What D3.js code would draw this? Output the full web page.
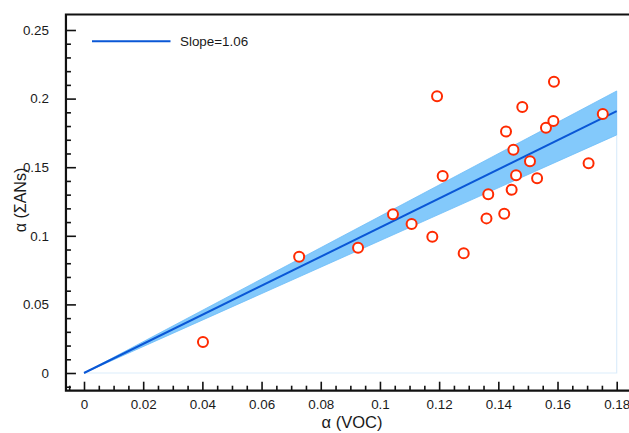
<!DOCTYPE html>
<html>
<head>
<meta charset="utf-8">
<script src="https://cdn.jsdelivr.net/npm/d3@7/dist/d3.min.js"></script>
<style>
  html, body { margin: 0; padding: 0; background: #fff; }
  svg { display: block; }
  text { font-family: "Liberation Sans", Arial, Helvetica, sans-serif; fill: #1a1a1a; }
</style>
</head>
<body>
<svg id="chart" width="629" height="433"></svg>
<script>
// Observations: alpha of VOC vs alpha of total alkyl nitrates
const voc = [0.0402, 0.0727, 0.0926, 0.1044, 0.1107, 0.1177, 0.1283, 0.1193, 0.1212,
             0.1360, 0.1366, 0.1420, 0.1426, 0.1445, 0.1451, 0.1460, 0.1481, 0.1507,
             0.1531, 0.1561, 0.1586, 0.1588, 0.1705, 0.1753];
const ans = [0.0226, 0.0847, 0.0913, 0.1157, 0.1086, 0.0993, 0.0872, 0.2017, 0.1436,
             0.1127, 0.1302, 0.1160, 0.1761, 0.1336, 0.1627, 0.1441, 0.1939, 0.1543,
             0.1419, 0.1788, 0.1837, 0.2122, 0.1529, 0.1888];

// Fitted slope through the origin and its uncertainty envelope
const slope = 1.06;
const slopeUpper = 1.142;
const slopeLower = 0.964;
const fitRange = [0, 0.18];

// Axis ticks
const xTicks = [0, 0.02, 0.04, 0.06, 0.08, 0.1, 0.12, 0.14, 0.16, 0.18];
const xTickLabels = ["0", "0.02", "0.04", "0.06", "0.08", "0.1", "0.12", "0.14", "0.16", "0.18"];
const xMinor = d3.range(-1, 37).map(i => i * 0.005).filter(v => Math.abs(v * 50 - Math.round(v * 50)) > 1e-6);
const yTicks = [0, 0.05, 0.1, 0.15, 0.2, 0.25];
const yTickLabels = ["0", "0.05", "0.1", "0.15", "0.2", "0.25"];
const yMinor = d3.range(-1, 26).map(i => i * 0.01).filter(v => Math.abs(v * 20 - Math.round(v * 20)) > 1e-6);

const svg = d3.select("#chart");

const x = d3.scaleLinear().domain([0, 0.18]).range([84, 616.7]);
const y = d3.scaleLinear().domain([0, 0.25]).range([373, 30]);

// Plot frame edges
const frameLeft = x(-0.0061), frameRight = 660, frameTop = y(0.2613), frameBottom = y(-0.0129);

// Faint outline of the fit region
svg.append("path")
  .attr("d", `M${x(0)},${y(0)}H${x(0.18)}V${y(slopeLower * 0.18)}`)
  .attr("fill", "none")
  .attr("stroke", "#dcedfb")
  .attr("stroke-width", 1.2);

// Confidence band
const band = [[fitRange[0], slopeUpper * fitRange[0]], [fitRange[1], slopeUpper * fitRange[1]],
              [fitRange[1], slopeLower * fitRange[1]], [fitRange[0], slopeLower * fitRange[0]]];
svg.append("path")
  .attr("d", d3.line().x(d => x(d[0])).y(d => y(d[1]))(band) + "Z")
  .attr("fill", "#83c9fb")
  .attr("stroke", "#6dbcf7")
  .attr("stroke-width", 0.8);

// Fitted line
svg.append("path")
  .attr("d", d3.line().x(d => x(d)).y(d => y(slope * d))(fitRange))
  .attr("fill", "none")
  .attr("stroke", "#0a57d6")
  .attr("stroke-width", 2);

// Data points
svg.append("g").selectAll("circle")
  .data(voc.map((v, i) => [v, ans[i]]))
  .join("circle")
  .attr("cx", d => x(d[0]))
  .attr("cy", d => y(d[1]))
  .attr("r", 5)
  .attr("fill", "#fff")
  .attr("stroke", "#ff2a00")
  .attr("stroke-width", 2);

// Bottom axis with inward ticks
const gx = svg.append("g").attr("transform", `translate(0,${frameBottom})`);
gx.call(d3.axisBottom(x).tickValues(xTicks).tickSize(-9).tickPadding(22)
  .tickFormat((d, i) => xTickLabels[i]));
gx.append("g").call(d3.axisBottom(x).tickValues(xMinor).tickSize(-5).tickFormat(""));
gx.selectAll(".domain").remove();
gx.selectAll("line").attr("stroke", "#111").attr("stroke-width", 1.6);
gx.selectAll(".tick text").attr("font-size", "13.4px").attr("fill", "#1a1a1a").attr("dy", "0").attr("y", 18);

// Left axis with inward ticks
const gy = svg.append("g").attr("transform", `translate(${frameLeft},0)`);
gy.call(d3.axisLeft(y).tickValues(yTicks).tickSize(-10).tickPadding(17)
  .tickFormat((d, i) => yTickLabels[i]));
gy.append("g").call(d3.axisLeft(y).tickValues(yMinor).tickSize(-5).tickFormat(""));
gy.selectAll(".domain").remove();
gy.selectAll("line").attr("stroke", "#111").attr("stroke-width", 1.6);
gy.selectAll(".tick text").attr("font-size", "13.4px").attr("fill", "#1a1a1a");

// Frame lines
svg.append("path")
  .attr("d", `M${frameRight},${frameTop}H${frameLeft}V${frameBottom}H${frameRight}`)
  .attr("fill", "none")
  .attr("stroke", "#111")
  .attr("stroke-width", 2.2);

// Axis titles
svg.append("text")
  .attr("x", 352).attr("y", 428)
  .attr("text-anchor", "middle")
  .attr("font-size", "16.5px")
  .text("α (VOC)");
svg.append("text")
  .attr("transform", "translate(26,200) rotate(-90)")
  .attr("text-anchor", "middle")
  .attr("font-size", "16px")
  .text("α (ΣANs)");

// Legend
svg.append("line")
  .attr("x1", 92).attr("x2", 170.5).attr("y1", 41.3).attr("y2", 41.3)
  .attr("stroke", "#0a57d6").attr("stroke-width", 2);
svg.append("text")
  .attr("x", 180).attr("y", 46)
  .attr("font-size", "13.4px")
  .text("Slope=1.06");
</script>
</body>
</html>
